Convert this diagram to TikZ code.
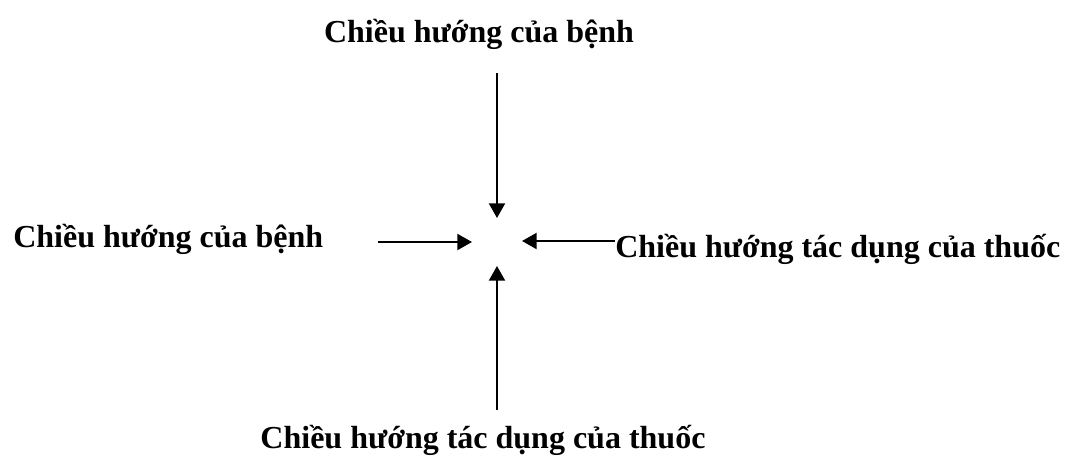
\documentclass[tikz,border=0pt]{standalone}
\usepackage{fontspec}
\setmainfont{Liberation Serif}
\usetikzlibrary{arrows.meta}
\begin{document}
\begin{tikzpicture}[x=0.75pt,y=-0.75pt,
  lbl/.style={inner sep=0pt,font=\fontsize{24}{28}\selectfont\bfseries},
  arr/.style={line width=1.6pt,-{Triangle[length=11pt,width=12pt]}}]
\useasboundingbox (0,0) rectangle (1070,457);
\node[lbl,anchor=base] (top) at (479,42) {Chiều hướng của bệnh};
\node[lbl,anchor=base west] (left) at (13,247) {Chiều hướng của bệnh};
\node[lbl,anchor=base west] (right) at (615,257) {Chiều hướng tác dụng của thuốc};
\node[lbl,anchor=base] (bottom) at (483,448) {Chiều hướng tác dụng của thuốc};
\coordinate (ts) at (497,73);
\coordinate (te) at (497,218);
\coordinate (ls) at (378,242);
\coordinate (le) at (472,242);
\coordinate (rs) at (615,241);
\coordinate (re) at (522,241);
\coordinate (bs) at (497,410);
\coordinate (be) at (497,266);
\draw[arr] (ts) -- (te);
\draw[arr] (ls) -- (le);
\draw[arr] (rs) -- (re);
\draw[arr] (bs) -- (be);
\end{tikzpicture}
\end{document}
